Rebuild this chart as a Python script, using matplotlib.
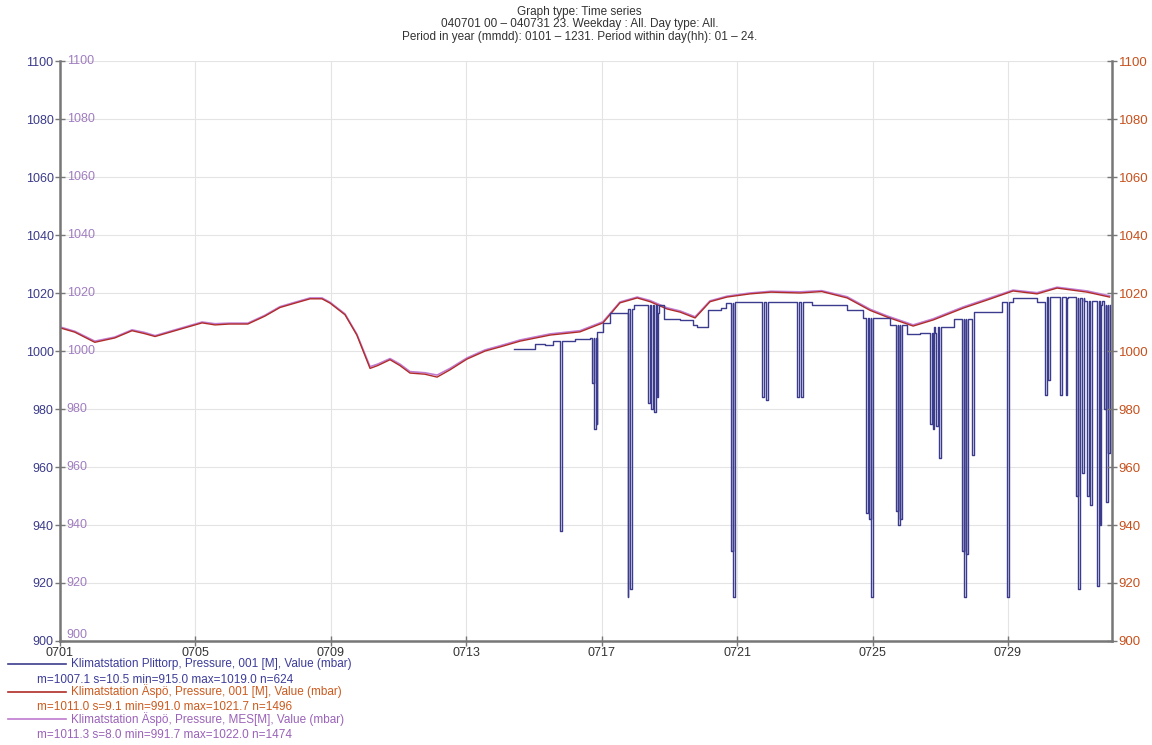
import numpy as np
import matplotlib.pyplot as plt

plt.rcParams['font.family'] = ['Liberation Sans', 'DejaVu Sans']

# Äspö 001 (days since 0701 00, mbar)
days_aspo = [0.0, 0.44, 1.03, 1.62, 2.13, 2.5, 2.81, 3.4, 4.2, 4.58, 5.0, 5.55,
             6.05, 6.5, 6.94, 7.39, 7.74, 7.98, 8.42, 8.77, 9.16, 9.39, 9.75,
             10.04, 10.34, 10.78, 11.14, 11.52, 12.02, 12.56, 13.0, 13.59,
             14.48, 15.36, 16.04, 16.54, 17.05, 17.43, 17.93, 18.32, 18.76,
             19.2, 19.7, 20.38, 21.0, 21.86, 22.5, 23.25, 23.93, 24.43, 25.2,
             25.79, 26.68, 27.39, 28.15, 28.86, 29.45, 30.34, 31.0]
p_aspo = [1008.0, 1006.5, 1003.0, 1004.5, 1007.0, 1006.0, 1005.0, 1007.0,
          1009.7, 1009.0, 1009.3, 1009.3, 1012.0, 1015.0, 1016.5, 1018.0,
          1018.0, 1016.5, 1012.5, 1005.5, 994.0, 995.0, 997.0, 995.0, 992.4,
          992.0, 991.0, 993.5, 997.2, 1000.0, 1001.4, 1003.4, 1005.5, 1006.6,
          1009.7, 1016.6, 1018.3, 1017.0, 1014.5, 1013.4, 1011.4, 1017.0,
          1018.6, 1019.7, 1020.3, 1020.0, 1020.5, 1018.3, 1014.0, 1011.7,
          1008.6, 1010.7, 1014.8, 1017.6, 1020.7, 1019.7, 1021.7, 1020.3,
          1018.6]
# Äspö MES, same time stamps
p_mes = [1008.3, 1006.8, 1003.4, 1004.8, 1007.3, 1006.4, 1005.3, 1007.3,
         1010.0, 1009.4, 1009.6, 1009.6, 1012.3, 1015.3, 1016.8, 1018.3,
         1018.3, 1016.8, 1012.8, 1005.8, 994.6, 995.5, 997.4, 995.5, 992.9,
         992.5, 991.7, 994.0, 997.6, 1000.4, 1001.8, 1003.8, 1005.9, 1007.0,
         1010.1, 1016.9, 1018.6, 1017.4, 1014.9, 1013.8, 1011.8, 1017.3,
         1018.9, 1020.0, 1020.6, 1020.4, 1020.8, 1018.7, 1014.4, 1012.1,
         1009.0, 1011.1, 1015.2, 1018.0, 1021.0, 1020.1, 1022.0, 1020.7,
         1019.0]

# Plittorp, stepped base level
days_plit = [13.4, 13.8, 14.03, 14.33, 14.56, 15.21, 15.66, 15.86, 16.04,
             16.25, 16.78, 16.97, 17.66, 17.84, 18.32, 18.7, 18.82, 19.15,
             19.53, 19.68, 19.95, 21.0, 22.2, 23.25, 23.72, 24.52, 25.02,
             25.4, 25.81, 26.4, 26.99, 27.81, 28.15, 28.86, 29.16, 29.75,
             30.25, 30.75]
p_plit = [1000.7, 1000.7, 1002.4, 1002.0, 1003.4, 1004.0, 1004.5, 1006.6,
          1009.7, 1013.0, 1014.5, 1016.0, 1013.0, 1011.0, 1010.7, 1009.0,
          1008.3, 1014.0, 1015.0, 1016.5, 1016.8, 1017.0, 1016.0, 1014.0,
          1011.4, 1009.0, 1005.9, 1006.2, 1008.3, 1011.0, 1013.4, 1017.0,
          1018.3, 1017.0, 1018.6, 1018.3, 1017.2, 1016.0]
# Plittorp dropouts: start day and lowest reading
spike_days = [14.77, 15.72, 15.78, 15.86, 16.78, 16.84, 17.37, 17.46, 17.55,
              17.64, 19.82, 19.88, 20.74, 20.86, 21.77, 21.89, 23.81, 23.9,
              23.96, 24.7, 24.76, 24.82, 25.7, 25.79, 25.88, 25.97, 26.65,
              26.71, 26.77, 26.94, 27.98, 29.1, 29.19, 29.54, 29.72, 30.01,
              30.07, 30.19, 30.34, 30.43, 30.63, 30.72, 30.84, 30.9, 30.96]
spike_low = [938, 989, 973, 975, 915, 918, 982, 980, 979, 984, 931, 915,
             984, 983, 984, 984, 944, 942, 915, 945, 940, 942, 975, 973, 974,
             963, 931, 915, 930, 964, 915, 985, 990, 985, 985, 950, 918, 958,
             950, 947, 919, 940, 980, 948, 965]

date_ticks = ['0701', '0705', '0709', '0713', '0717', '0721', '0725', '0729']
y_ticks = list(range(900, 1101, 20))

# merge base level and dropouts into one stepped series
pts = list(zip(days_plit, p_plit))
for t, low in zip(spike_days, spike_low):
    base = p_plit[int(np.searchsorted(days_plit, t, side='right')) - 1]
    pts.append((t, low))
    pts.append((t + 0.045, base))
pts.sort()
bx = [p[0] for p in pts]
by = [p[1] for p in pts]

c_plit = '#3c3c8e'
c_aspo = '#b02c28'
c_mes = '#c07ad0'

fig = plt.figure(figsize=(11.52, 7.45), dpi=100)
ax = fig.add_axes([0.052, 0.1396, 0.9135, 0.7785])

ax.plot(days_aspo, p_mes, color=c_mes, lw=1.2)
ax.plot(days_aspo, p_aspo, color=c_aspo, lw=1.0)
ax.plot(bx, by, color=c_plit, lw=1.0, drawstyle='steps-post')

ax.set_xlim(0, 31.08)
ax.set_ylim(900, 1100)
ax.set_xticks(range(0, 29, 4))
ax.set_xticklabels(date_ticks, fontsize=9, color='#333333')
ax.set_yticks(y_ticks)
ax.set_yticklabels([str(v) for v in y_ticks], fontsize=9, color='#3a3a8a')
ax.tick_params(axis='both', direction='inout', length=7, width=1, color='#777777', pad=1)
ax.grid(True, color='#e4e4e4', lw=0.8)
ax.set_axisbelow(True)
for side in ['left', 'bottom', 'right']:
    ax.spines[side].set_color('#777777')
    ax.spines[side].set_linewidth(1.8)
ax.spines['top'].set_visible(False)

# second set of labels inside the left axis
for v in y_ticks:
    ax.text(0.2, v + (2 if v == 900 else 0), str(v), transform=ax.transData,
            fontsize=9, color='#a07cc0', va='center', ha='left')

ax2 = ax.twinx()
ax2.set_ylim(900, 1100)
ax2.set_yticks(y_ticks)
ax2.set_yticklabels([str(v) for v in y_ticks], fontsize=9.5, color='#c8501c')
ax2.tick_params(axis='y', direction='inout', length=7, width=1, color='#777777', pad=1)
for s in ax2.spines.values():
    s.set_visible(False)

fig.text(0.503, 1 - 12 / 745, 'Graph type: Time series', ha='center', va='center',
         fontsize=8.5, color='#333333')
fig.text(0.503, 1 - 24 / 745, '040701 00 \u2013 040731 23. Weekday : All. Day type: All.',
         ha='center', va='center', fontsize=8.5, color='#333333')
fig.text(0.503, 1 - 37 / 745, 'Period in year (mmdd): 0101 \u2013 1231. Period within day(hh): 01 \u2013 24.',
         ha='center', va='center', fontsize=8.5, color='#333333')

# legend block below the axes
legend = [
    (c_plit, '#3c3c9a', 'Klimatstation Plittorp, Pressure, 001 [M], Value (mbar)',
     'm=1007.1 s=10.5 min=915.0 max=1019.0 n=624'),
    (c_aspo, '#cc5a1e', 'Klimatstation \u00c4sp\u00f6, Pressure, 001 [M], Value (mbar)',
     'm=1011.0 s=9.1 min=991.0 max=1021.7 n=1496'),
    (c_mes, '#9a62b8', 'Klimatstation \u00c4sp\u00f6, Pressure, MES[M], Value (mbar)',
     'm=1011.3 s=8.0 min=991.7 max=1022.0 n=1474'),
]
y0 = 664
for i, (lc, tc, name, stats) in enumerate(legend):
    yl = 1 - (y0 + i * 27.5) / 745
    ys = 1 - (y0 + 16 + i * 27.5) / 745
    fig.add_artist(plt.Line2D([8 / 1152, 66 / 1152], [yl, yl], color=lc, lw=1.2))
    fig.text(71 / 1152, yl, name, fontsize=8.5, color=tc, va='center')
    fig.text(37 / 1152, ys, stats, fontsize=8.5, color=tc, va='center')

fig.savefig('out.png', dpi=100)
